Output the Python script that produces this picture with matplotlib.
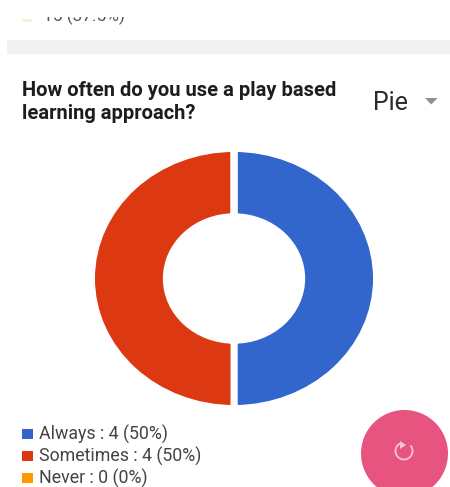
import matplotlib.pyplot as plt
from matplotlib.patches import Arc, Circle, Polygon, Rectangle

WIDTH = 450
HEIGHT = 487

CATEGORIES = ["Always", "Sometimes", "Never"]
COUNTS = [4, 4, 0]
PERCENTS = [50, 50, 0]
COLORS = ["#3366cc", "#dc3912", "#ff9900"]

TITLE = "How often do you use a play based\nlearning approach?"
CHART_TYPE = "Pie"
PREVIOUS_ITEM = "15 (37.5%)"

plt.rcParams["font.family"] = ["Roboto", "DejaVu Sans"]

fig = plt.figure(figsize=(WIDTH / 100, HEIGHT / 100), dpi=100, facecolor="white")

# page layer in pixel coordinates, y going down
page = fig.add_axes([0, 0, 1, 1])
page.set_xlim(0, WIDTH)
page.set_ylim(HEIGHT, 0)
page.axis("off")

# tail of the previous card, scrolled under the top edge
prev = page.text(43, 21.5, PREVIOUS_ITEM, fontsize=12.4, color="#555555", va="baseline")
prev.set_clip_on(True)
prev.set_clip_path(Rectangle((0, 17), WIDTH, 10, transform=page.transData))
page.add_patch(Rectangle((22, 19), 10, 3, color="#fbeedd", lw=0))

page.add_patch(Rectangle((7, 40), WIDTH - 7, 14, color="#f1f1f1", lw=0))

page.text(22, 102, TITLE, fontsize=14.5, fontweight="bold", color="#1d1d1d",
          va="center", linespacing=1.3)
page.text(373, 102.5, CHART_TYPE, fontsize=18, color="#2a2a2a", va="center")
page.add_patch(Polygon([(425, 98), (437.5, 98), (431.2, 104.5)], color="#8f8f8f", lw=0))

# legend rows
for i, name in enumerate(CATEGORIES):
    y = 434 + i * 22.2
    page.add_patch(Rectangle((22, y - 5), 10.5, 9.5, color=COLORS[i], lw=0))
    page.text(39, y, f"{name} : {COUNTS[i]} ({PERCENTS[i]}%)", fontsize=12.8,
              color="#444444", va="center")

# floating refresh button
page.add_patch(Circle((404.5, 453.5), 43.5, color="#e75480", lw=0))
page.add_patch(Arc((404, 451), 17, 17, theta1=-40, theta2=250, color="#f8c6d6", lw=1.3))
page.add_patch(Polygon([(400, 441), (406, 445), (400, 449)], color="#f8c6d6", lw=0))

# donut, stretched a little wider than tall
ax = fig.add_axes([91.5 / WIDTH, 1 - 408.5 / HEIGHT, 285 / WIDTH, 260 / HEIGHT])
ax.pie(COUNTS, colors=COLORS, startangle=90, counterclock=False, radius=1.0,
       wedgeprops={"width": 0.525, "edgecolor": "white", "linewidth": 5})
ax.set_aspect("auto")
ax.set_xlim(-1, 1)
ax.set_ylim(-1, 1)

fig.savefig("out.png", dpi=100)
